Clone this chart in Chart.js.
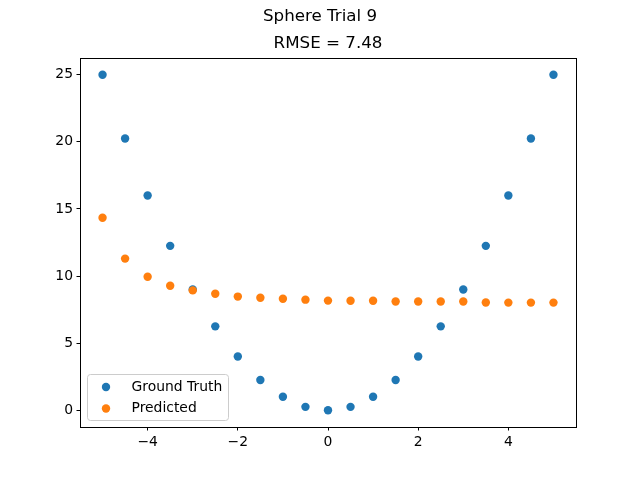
<!DOCTYPE html>
<html>
<head>
<meta charset="utf-8">
<script src="https://cdn.jsdelivr.net/npm/chart.js"></script>
<style>
  html, body { margin: 0; padding: 0; background: #fff; }
  #wrap { width: 640px; height: 480px; }
</style>
</head>
<body>
<div id="wrap"><canvas id="chart" width="640" height="480"></canvas></div>
<script>
// sample positions and values
const xValues = [-5, -4.5, -4, -3.5, -3, -2.5, -2, -1.5, -1, -0.5, 0, 0.5, 1, 1.5, 2, 2.5, 3, 3.5, 4, 4.5, 5];
const groundTruth = [25, 20.25, 16, 12.25, 9, 6.25, 4, 2.25, 1, 0.25, 0, 0.25, 1, 2.25, 4, 6.25, 9, 12.25, 16, 20.25, 25];
const predicted = [14.35, 11.3, 9.95, 9.28, 8.93, 8.68, 8.47, 8.38, 8.31, 8.24, 8.17, 8.16, 8.16, 8.1, 8.1, 8.1, 8.1, 8.03, 8.02, 8.02, 8.02];
const xTicks = [-4, -2, 0, 2, 4];
const yTicks = [0, 5, 10, 15, 20, 25];
const seriesNames = ['Ground Truth', 'Predicted'];
const seriesColors = ['#1f77b4', '#ff7f0e'];
const figTitle = 'Sphere Trial 9';
const axTitle = 'RMSE = 7.48';

const FONT = 'DejaVu Sans';

function toPoints(ys) {
    return xValues.map((x, i) => ({ x: x, y: ys[i] }));
}
function fmt(v) {
    return String(v).replace('-', '\u2212');
}

// spines on all four sides plus the two titles
const framePlugin = {
    id: 'frame',
    afterDraw(chart) {
        const a = chart.chartArea, ctx = chart.ctx;
        ctx.save();
        ctx.strokeStyle = '#000';
        ctx.lineWidth = 1;
        ctx.strokeRect(Math.round(a.left) + 0.5, Math.round(a.top) + 0.5,
            Math.round(a.right - a.left), Math.round(a.bottom - a.top));
        ctx.fillStyle = '#000';
        ctx.font = '16.7px "' + FONT + '"';
        ctx.textAlign = 'center';
        ctx.textBaseline = 'middle';
        ctx.fillText(figTitle, chart.width / 2, 17);
        ctx.fillText(axTitle, (a.left + a.right) / 2, 44);
        ctx.restore();
    }
};

// legend in the lower left of the plot
const insideLegend = {
    id: 'insideLegend',
    afterDraw(chart) {
        const a = chart.chartArea, ctx = chart.ctx;
        const x0 = a.left + 7.5, y1 = a.bottom - 6.5, w = 141, h = 46;
        const y0 = y1 - h;
        ctx.save();
        ctx.beginPath();
        ctx.roundRect(x0, y0, w, h, 3);
        ctx.fillStyle = 'rgba(255,255,255,0.8)';
        ctx.fill();
        ctx.strokeStyle = '#cccccc';
        ctx.lineWidth = 1;
        ctx.stroke();
        ctx.font = '13.9px "' + FONT + '"';
        ctx.textBaseline = 'middle';
        chart.data.datasets.forEach((ds, i) => {
            const cy = y0 + 12.5 + i * 21.5;
            ctx.beginPath();
            ctx.arc(x0 + 18.5, cy, 4.2, 0, Math.PI * 2);
            ctx.fillStyle = ds.backgroundColor;
            ctx.fill();
            ctx.fillStyle = '#000';
            ctx.fillText(ds.label, x0 + 44, cy);
        });
        ctx.restore();
    }
};

const ctx = document.getElementById('chart').getContext('2d');
new Chart(ctx, {
    type: 'scatter',
    data: {
        datasets: [
            // higher order is drawn first, so Predicted sits on top
            { label: seriesNames[0], data: toPoints(groundTruth), order: 1, backgroundColor: seriesColors[0], borderWidth: 0, pointRadius: 4.2, pointHoverRadius: 4.2 },
            { label: seriesNames[1], data: toPoints(predicted), order: 0, backgroundColor: seriesColors[1], borderWidth: 0, pointRadius: 4.2, pointHoverRadius: 4.2 }
        ]
    },
    options: {
        responsive: false,
        animation: false,
        devicePixelRatio: 1,
        layout: { padding: { left: 0, right: 64, top: 58, bottom: 0 } },
        plugins: {
            legend: { display: false },
            tooltip: { enabled: false },
            title: { display: false }
        },
        scales: {
            x: {
                type: 'linear',
                min: -5.5,
                max: 5.5,
                afterBuildTicks(scale) { scale.ticks = xTicks.map(v => ({ value: v })); },
                afterFit(scale) { scale.height = 53; },
                grid: { display: true, drawOnChartArea: false, drawTicks: true, tickLength: 3.5, tickWidth: 1, tickColor: '#000' },
                border: { display: false },
                ticks: { color: '#000', padding: 3.5, maxRotation: 0, font: { family: FONT, size: 13.9 }, callback: v => fmt(v) }
            },
            y: {
                type: 'linear',
                min: -1.25,
                max: 26.25,
                afterBuildTicks(scale) { scale.ticks = yTicks.map(v => ({ value: v })); },
                afterFit(scale) { scale.width = 80; },
                grid: { display: true, drawOnChartArea: false, drawTicks: true, tickLength: 3.5, tickWidth: 1, tickColor: '#000' },
                border: { display: false },
                ticks: { color: '#000', padding: 3.5, font: { family: FONT, size: 13.9 }, callback: v => fmt(v) }
            }
        }
    },
    plugins: [framePlugin, insideLegend]
});
</script>
</body>
</html>
